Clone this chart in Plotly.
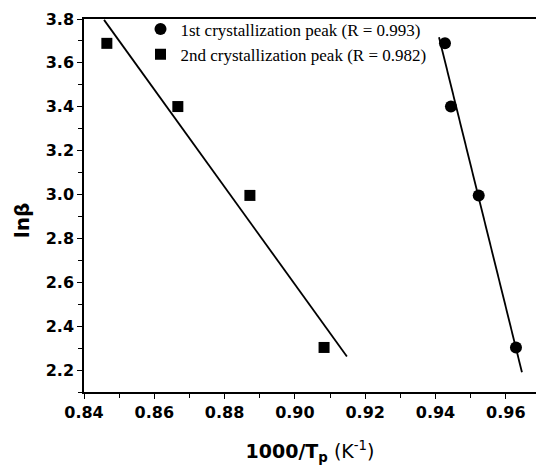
import numpy as np
import plotly.graph_objects as go

# ln(heating rate) for heating rates of 10, 20, 30, 40 K/min
ln_beta = [2.303, 2.996, 3.401, 3.689]

# 1000/Tp for each crystallization peak
inv_tp_peak1 = [0.9629, 0.9523, 0.9444, 0.9427]
inv_tp_peak2 = [0.9083, 0.8872, 0.8667, 0.8465]

label_peak1 = "1st crystallization peak (R = 0.993)"
label_peak2 = "2nd crystallization peak (R = 0.982)"

# x spans over which the linear fits are drawn
fit1_span = [0.9410, 0.9646]
fit2_span = [0.8457, 0.9148]

x_ticks = [0.84, 0.86, 0.88, 0.90, 0.92, 0.94, 0.96]
y_ticks = [2.2, 2.4, 2.6, 2.8, 3.0, 3.2, 3.4, 3.6, 3.8]


def fit_line(x, y, span):
    slope, intercept = np.polyfit(x, y, 1)
    xs = np.array(span)
    return xs, slope * xs + intercept


fig = go.Figure()

for xs_data, span in ((inv_tp_peak1, fit1_span), (inv_tp_peak2, fit2_span)):
    fx, fy = fit_line(xs_data, ln_beta, span)
    fig.add_trace(go.Scatter(
        x=fx, y=fy, mode="lines", showlegend=False,
        line=dict(color="black", width=1.8), hoverinfo="skip",
    ))

fig.add_trace(go.Scatter(
    x=inv_tp_peak1, y=ln_beta, mode="markers", name=label_peak1,
    marker=dict(symbol="circle", size=12, color="black"),
))
fig.add_trace(go.Scatter(
    x=inv_tp_peak2, y=ln_beta, mode="markers", name=label_peak2,
    marker=dict(symbol="square", size=11, color="black"),
))

tick_font = dict(family="DejaVu Sans", size=16, color="black", weight="bold")

fig.update_layout(
    width=536, height=471,
    margin=dict(l=84, r=0, t=19, b=79),
    paper_bgcolor="white", plot_bgcolor="white",
    showlegend=True,
    legend=dict(
        x=0.125, y=1.02, xanchor="left", yanchor="top",
        bgcolor="rgba(0,0,0,0)", borderwidth=0,
        font=dict(family="Liberation Serif", size=17, color="black"),
        itemwidth=30, tracegroupgap=0,
    ),
    xaxis=dict(
        range=[0.84, 0.9686], tickvals=x_ticks,
        ticktext=[f"{v:.2f}" for v in x_ticks],
        showgrid=False, zeroline=False,
        showline=True, linecolor="black", linewidth=1.5, mirror=True,
        ticks="outside", ticklen=5, tickwidth=1.3, tickcolor="black",
        minor=dict(dtick=0.01, ticks="outside", ticklen=4, tickwidth=1.2, tickcolor="black"),
        tickfont=tick_font,
        title=dict(
            text="<b>1000/T<sub>p</sub></b> (K<sup>-1</sup>)",
            font=dict(family="DejaVu Sans", size=19, color="black"),
            standoff=24,
        ),
    ),
    yaxis=dict(
        range=[2.1, 3.8], tickvals=y_ticks,
        ticktext=[f"{v:.1f}" for v in y_ticks],
        showgrid=False, zeroline=False,
        showline=True, linecolor="black", linewidth=1.5,
        ticks="outside", ticklen=5, tickwidth=1.3, tickcolor="black",
        minor=dict(dtick=0.1, ticks="outside", ticklen=4, tickwidth=1.2, tickcolor="black"),
        tickfont=tick_font,
    ),
    annotations=[dict(
        text="<b>lnβ</b>", textangle=-90, showarrow=False,
        xref="paper", yref="paper", x=0, y=0.458,
        xanchor="center", yanchor="middle", xshift=-62,
        font=dict(family="DejaVu Sans", size=20, color="black"),
    )],
)

fig.write_html("out.html")
